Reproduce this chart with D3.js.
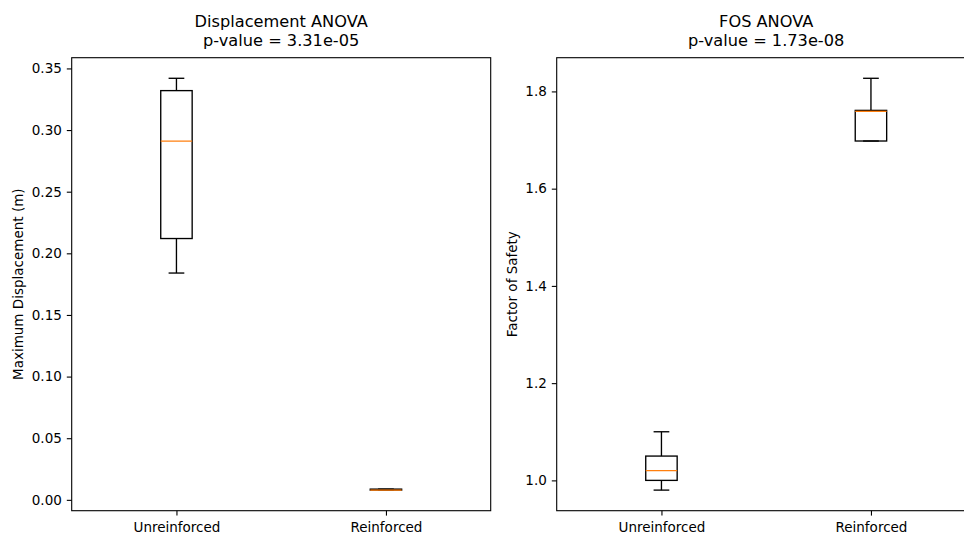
<!DOCTYPE html>
<html>
<head>
<meta charset="utf-8">
<script src="https://cdn.jsdelivr.net/npm/d3@7"></script>
<style>
  html, body { margin: 0; padding: 0; background: #fff; }
  svg { display: block; font-family: "DejaVu Sans", sans-serif; }
</style>
</head>
<body>
<svg id="fig" width="964" height="536"></svg>
<script>
'use strict';

// categories along the x axis
const categories = ['Unreinforced', 'Reinforced'];

// box stats per category: [whisker low, q1, median, q3, whisker high]
const dispStats = [
  [0.184, 0.212, 0.291, 0.332, 0.342],
  [0.0079, 0.0079, 0.0079, 0.0087, 0.0087]
];
const fosStats = [
  [0.98, 1.00, 1.02, 1.05, 1.10],
  [1.698, 1.698, 1.759, 1.761, 1.827]
];

// tick labels
const dispTicks = [0.00, 0.05, 0.10, 0.15, 0.20, 0.25, 0.30, 0.35];
const fosTicks = [1.0, 1.2, 1.4, 1.6, 1.8];

// titles / labels
const dispTitle = ['Displacement ANOVA', 'p-value = 3.31e-05'];
const fosTitle = ['FOS ANOVA', 'p-value = 1.73e-08'];

function drawPanel (svg, opts) {
  const { x0, x1, y0, y1, stats, ticks, fmt, title, ylabel, ylabelX } = opts;

  // y domain like matplotlib: whisker extent + 5% margins
  const lo = d3.min(stats, d => d[0]);
  const hi = d3.max(stats, d => d[4]);
  const pad = (hi - lo) * 0.05;

  const yScale = d3.scaleLinear().domain([lo - pad, hi + pad]).range([y1, y0]);
  const xScale = d3.scaleLinear().domain([0.5, 2.5]).range([x0, x1]);

  const g = svg.append('g');

  // y axis
  const yAxis = g.append('g')
    .attr('transform', `translate(${x0},0)`)
    .call(d3.axisLeft(yScale).tickValues(ticks).tickFormat(d3.format(fmt))
      .tickSize(4.9).tickPadding(5).tickSizeOuter(0));
  yAxis.select('.domain').remove();

  // x axis
  const xAxis = g.append('g')
    .attr('transform', `translate(0,${y1})`)
    .call(d3.axisBottom(xScale).tickValues([1, 2]).tickFormat((d, i) => categories[i])
      .tickSize(4.9).tickPadding(7).tickSizeOuter(0));
  xAxis.select('.domain').remove();

  g.selectAll('.tick line').attr('stroke', '#000').attr('stroke-width', 1.1);
  g.selectAll('.tick text').attr('fill', '#000').style('font-size', '13.5px')
    .style('font-family', '"DejaVu Sans", sans-serif');

  // boxes
  const bw = 0.15;
  const boxes = g.selectAll('g.box').data(stats).enter().append('g').attr('class', 'box');

  const line = (sel, x1f, y1f, x2f, y2f, col) => sel.append('line')
    .attr('x1', x1f).attr('y1', y1f).attr('x2', x2f).attr('y2', y2f)
    .attr('stroke', col).attr('stroke-width', 1.35).attr('stroke-linecap', 'butt');

  boxes.append('rect')
    .attr('x', (d, i) => xScale(i + 1 - bw / 2))
    .attr('y', d => yScale(d[3]))
    .attr('width', xScale(1 + bw / 2) - xScale(1 - bw / 2))
    .attr('height', d => yScale(d[1]) - yScale(d[3]))
    .attr('fill', 'none').attr('stroke', '#000').attr('stroke-width', 1.35);

  // whiskers
  line(boxes, (d, i) => xScale(i + 1), d => yScale(d[1]), (d, i) => xScale(i + 1), d => yScale(d[0]), '#000');
  line(boxes, (d, i) => xScale(i + 1), d => yScale(d[3]), (d, i) => xScale(i + 1), d => yScale(d[4]), '#000');
  // caps
  line(boxes, (d, i) => xScale(i + 1 - bw / 4), d => yScale(d[0]), (d, i) => xScale(i + 1 + bw / 4), d => yScale(d[0]), '#000');
  line(boxes, (d, i) => xScale(i + 1 - bw / 4), d => yScale(d[4]), (d, i) => xScale(i + 1 + bw / 4), d => yScale(d[4]), '#000');
  // median
  line(boxes, (d, i) => xScale(i + 1 - bw / 2), d => yScale(d[2]), (d, i) => xScale(i + 1 + bw / 2), d => yScale(d[2]), '#ff7f0e');

  // frame
  g.append('rect')
    .attr('x', x0).attr('y', y0).attr('width', x1 - x0).attr('height', y1 - y0)
    .attr('fill', 'none').attr('stroke', '#000').attr('stroke-width', 1.1);

  // title
  const cx = (x0 + x1) / 2;
  g.append('text')
    .attr('x', cx).attr('y', 27)
    .attr('text-anchor', 'middle')
    .style('font-size', '16.2px')
    .selectAll('tspan').data(title).enter().append('tspan')
    .attr('x', cx).attr('dy', (d, i) => i === 0 ? 0 : 19.4)
    .text(d => d);

  // y label
  g.append('text')
    .attr('transform', `translate(${ylabelX},${(y0 + y1) / 2}) rotate(-90)`)
    .attr('text-anchor', 'middle')
    .style('font-size', '13.5px')
    .text(ylabel);
}

const svg = d3.select('#fig');

drawPanel(svg, {
  x0: 71.7, x1: 490.7, y0: 57.7, y1: 510.7,
  stats: dispStats, ticks: dispTicks, fmt: '.2f',
  title: dispTitle, ylabel: 'Maximum Displacement (m)', ylabelX: 23
});

drawPanel(svg, {
  x0: 556.7, x1: 975.7, y0: 57.7, y1: 510.7,
  stats: fosStats, ticks: fosTicks, fmt: '.1f',
  title: fosTitle, ylabel: 'Factor of Safety', ylabelX: 516.5
});
</script>
</body>
</html>
